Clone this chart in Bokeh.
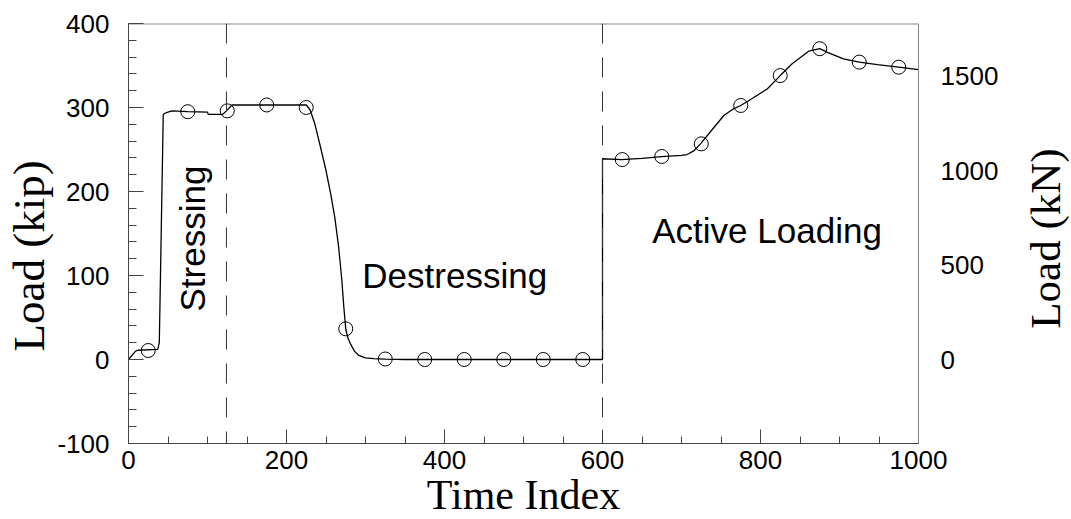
import math
from bokeh.plotting import figure
from bokeh.models import (LinearAxis, Range1d, FixedTicker, Span, Label, Title)
from bokeh.embed import file_html
from bokeh.resources import INLINE

# ---- data ----
time_index = [0, 9, 12, 37, 39, 44, 48, 55, 75, 100, 101, 119, 124, 131, 225, 230,
              236, 243, 250, 256, 261, 266, 270, 272.6, 275, 278, 281, 286, 291.5,
              300, 310, 325, 350, 600, 600, 624, 650, 675, 700, 707, 715, 724, 740,
              753.6, 765, 775, 790, 808.5, 825, 840, 861, 875, 884, 905, 925, 948,
              975, 1000]
load_kip = [0, 10, 11, 12, 20, 292, 294, 296, 295, 294.5, 291.7, 291.7, 296, 303,
            303, 297, 280, 253, 225, 197, 170, 134, 95, 62, 36, 25, 18.7, 10, 4.8,
            2, 1, 0.5, 0, 0, 239, 238, 239.5, 241.5, 243, 244, 248, 256.7, 275,
            290.5, 298, 302.4, 311, 322, 338, 352, 367, 370, 366, 358, 354, 351,
            348, 345]

marker_time = [25, 75, 125, 175, 225, 275, 325, 375, 425, 475, 525, 575,
               625, 675, 725, 775, 825, 875, 925, 975]
marker_kip = [10.7, 295, 296, 303, 300, 36.5, 0.6, 0, 0, 0, 0, 0,
              238, 241.7, 256.7, 302.4, 338, 370, 354, 348]

phase_boundaries = [124, 600]
phase_names = ["Stressing", "Destressing", "Active Loading"]

x_ticks = [0, 200, 400, 600, 800, 1000]
x_minor = list(range(0, 1001, 50))
y_ticks = [-100, 0, 100, 200, 300, 400]
y_tick_labels = ["-100", "0", "100", "200", "300", "400"]
y_minor = list(range(-100, 401, 20))
kn_ticks = [0, 500, 1000, 1500]
kn_tick_labels = ["0", "500", "1000", "1500"]
KIP_TO_KN = 4.448

x_title = "Time Index"
y_title = "Load (kip)"
y2_title = "Load (kN)"

x_min, x_max = 0, 1000
y_min, y_max = -100, 400

# layout: data area is 790 px wide; the frame is extended to the right edge
# so the kN scale and its title can sit inside it
DATA_W = 790
FRAME_W = 1071 - 128
x_view_max = x_max * FRAME_W / DATA_W

sans = "Liberation Sans"
serif = "Liberation Serif"
AXIS_DARK = "#444444"
AXIS_LIGHT = "#888888"

p = figure(frame_width=FRAME_W, frame_height=420,
           min_border_left=128, min_border_right=0,
           min_border_top=23, min_border_bottom=76,
           x_range=Range1d(x_min, x_view_max), y_range=Range1d(y_min, y_max),
           output_backend="svg", toolbar_location=None,
           background_fill_color="white", border_fill_color="white")
p.xgrid.visible = False
p.ygrid.visible = False
p.outline_line_color = None

# bottom axis (limited to the data area)
xa = p.xaxis[0]
xa.bounds = (x_min, x_max)
xa.ticker = FixedTicker(ticks=x_ticks, minor_ticks=x_minor)
xa.axis_line_color = AXIS_DARK
xa.major_tick_line_color = AXIS_DARK
xa.minor_tick_line_color = AXIS_DARK
xa.major_tick_in = 14
xa.major_tick_out = 0
xa.minor_tick_in = 7
xa.minor_tick_out = 0
xa.major_label_text_font = sans
xa.major_label_text_font_size = "26px"
xa.major_label_text_color = "black"
xa.major_label_standoff = 7

# x title as a second, tick-less axis under the first, centred on the data area
xt = LinearAxis()
xt.ticker = FixedTicker(ticks=[(x_min + x_max) / 2])
xt.major_label_overrides = {(x_min + x_max) / 2: x_title}
xt.axis_line_color = None
xt.major_tick_line_color = None
xt.minor_tick_line_color = None
xt.major_tick_in = 0
xt.major_tick_out = 0
xt.minor_tick_in = 0
xt.minor_tick_out = 0
xt.major_label_text_font = serif
xt.major_label_text_font_size = "42px"
xt.major_label_text_color = "black"
xt.major_label_standoff = 0
p.add_layout(xt, "below")

# left axis
ya = p.yaxis[0]
ya.ticker = FixedTicker(ticks=y_ticks, minor_ticks=y_minor)
ya.major_label_overrides = dict(zip(y_ticks, y_tick_labels))
ya.axis_line_color = AXIS_DARK
ya.major_tick_line_color = AXIS_DARK
ya.minor_tick_line_color = AXIS_DARK
ya.major_tick_in = 15
ya.major_tick_out = 0
ya.minor_tick_in = 8
ya.minor_tick_out = 0
ya.major_label_text_font = sans
ya.major_label_text_font_size = "26px"
ya.major_label_text_color = "black"
ya.major_label_standoff = 19

# left title (side panel, reads bottom to top)
p.add_layout(Title(text=y_title, align="left", offset=92, vertical_align="middle",
                   standoff=0, text_font=serif, text_font_size="45px",
                   text_font_style="normal", text_color="black"), "left")

# frame lines: top border and right (kN) axis line
p.segment(x0=[x_min], y0=[y_max], x1=[x_max], y1=[y_max],
          line_color=AXIS_LIGHT, line_width=2)
p.add_layout(Span(location=x_max, dimension="height", line_color=AXIS_LIGHT,
                  line_width=1))

# kN scale
p.extra_y_ranges = {"kn": Range1d(y_min * KIP_TO_KN, y_max * KIP_TO_KN)}
for v, t in zip(kn_ticks, kn_tick_labels):
    p.add_layout(Label(x=x_max, y=v, y_range_name="kn", text=t, x_offset=22,
                       text_align="left", text_baseline="middle",
                       text_font=sans, text_font_size="26px", text_color="black"))
p.add_layout(Label(x=x_max, y=144, text=y2_title, x_offset=127, angle=math.pi / 2,
                   text_align="center", text_baseline="middle",
                   text_font=serif, text_font_size="43px", text_color="black"))

# phase boundaries
for b in phase_boundaries:
    p.add_layout(Span(location=b, dimension="height", line_color="#333333",
                      line_width=1, line_dash="20 14"))

# data
p.line(time_index, load_kip, line_color="black", line_width=1.3)
p.scatter(marker_time, marker_kip, marker="circle", size=14,
          fill_color=None, line_color="black", line_width=1)

# phase labels
p.add_layout(Label(x=81, y=144, text=phase_names[0], angle=math.pi / 2,
                   text_align="center", text_baseline="middle",
                   text_font=sans, text_font_size="35px", text_color="black"))
p.add_layout(Label(x=296, y=100, text=phase_names[1],
                   text_align="left", text_baseline="alphabetic",
                   text_font=sans, text_font_size="35px", text_color="black"))
p.add_layout(Label(x=663, y=153.6, text=phase_names[2],
                   text_align="left", text_baseline="alphabetic",
                   text_font=sans, text_font_size="35px", text_color="black"))

open("out.html", "w").write(file_html(p, INLINE))
